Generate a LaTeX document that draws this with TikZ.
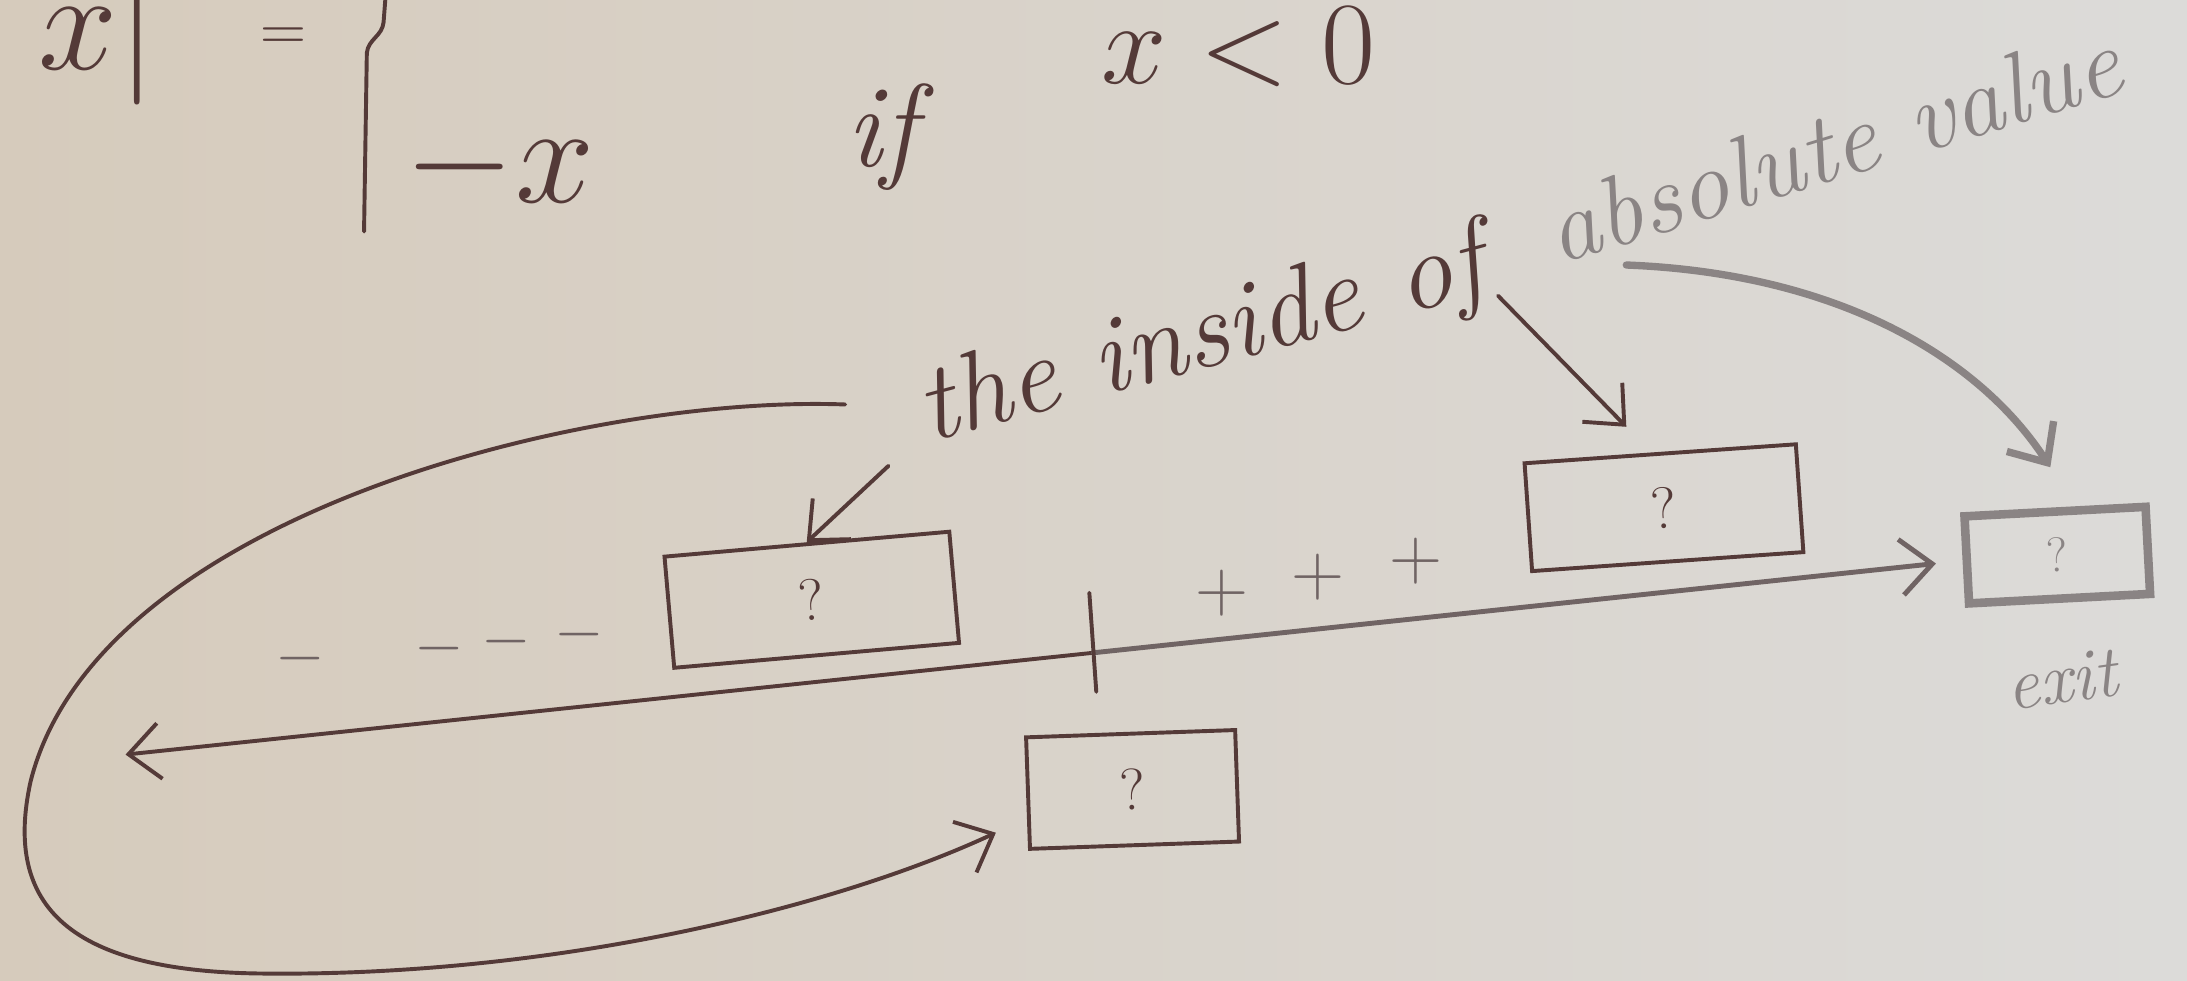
\documentclass[tikz,border=0pt]{standalone}
\usepackage{fix-cm}
\usetikzlibrary{arrows.meta,calc}
\definecolor{ink}{RGB}{84,58,56}
\definecolor{midink}{RGB}{112,100,100}
\definecolor{faint}{RGB}{138,132,132}
\definecolor{paperL}{RGB}{214,203,188}
\definecolor{paperR}{RGB}{220,219,217}
\begin{document}
\begin{tikzpicture}[x=0.02cm,y=-0.02cm,
  pen/.style={draw=ink,line width=1.6pt,line cap=round,line join=round},
  mpen/.style={draw=midink,line width=2pt,line cap=round,line join=round},
  fpen/.style={draw=faint,line width=3pt,line cap=round,line join=round},
  barb/.style={-{Straight Barb[length=4.5mm,width=8mm]}},
  qbox/.style={draw=ink,line width=1.6pt,inner sep=0pt,text=ink,
    font=\fontsize{24}{28}\selectfont},
  fbox/.style={draw=faint,line width=3.5pt,inner sep=0pt,text=faint,
    font=\fontsize{20}{24}\selectfont},
  hand/.style={text=ink,inner sep=0pt,font=\fontsize{45}{52}\selectfont\itshape},
  fhand/.style={text=faint,inner sep=0pt,font=\fontsize{41}{48}\selectfont\itshape},
  big/.style={text=ink,inner sep=0pt,font=\fontsize{58}{66}\selectfont},
  sign/.style={text=midink,inner sep=0pt,font=\fontsize{30}{34}\selectfont}]
\useasboundingbox (0,0) rectangle (1568,703);
\shade[left color=paperL,right color=paperR] (0,0) rectangle (1568,703);

% formula at top
\node[big] (absx) at (70,24) {$x|$};
\node[big,font=\fontsize{26}{30}\selectfont] (eq) at (203,28) {$=$};
\draw[pen] (277,-10) -- (275,16) .. controls (274,26) and (264,28) .. (263,38) -- (261,166);
\node[big] (negx) at (358,120) {$-x$};
\node[big,font=\fontsize{48}{56}\selectfont\itshape] (iff) at (632,98) {if};
\node[big,font=\fontsize{48}{56}\selectfont] (cond) at (888,34) {$x<0$};

% labels
\node[hand,rotate=15] (lblA) at (862,244) {the inside of};
\node[fhand,rotate=17] (lblB) at (1314,104) {absolute value};

% boxes
\node[qbox,minimum width=4.1cm,minimum height=1.6cm,rotate=5] (box1) at (582,430) {?};
\node[qbox,minimum width=3.9cm,minimum height=1.55cm,rotate=4] (box2) at (1193,364) {?};
\node[fbox,minimum width=2.6cm,minimum height=1.25cm,rotate=3] (box3) at (1475,398) {?};
\node[qbox,minimum width=3cm,minimum height=1.6cm,rotate=2] (box4) at (812,566) {?};
\node[fhand,rotate=8,font=\fontsize{30}{34}\selectfont\itshape] (exitlbl) at (1478,487) {exit};

% signs
\node[sign,font=\fontsize{26}{30}\selectfont] (m1) at (215,472) {$-$};
\node[sign,font=\fontsize{26}{30}\selectfont] (m2) at (315,465) {$-$};
\node[sign,font=\fontsize{26}{30}\selectfont] (m3) at (363,460) {$-$};
\node[sign,font=\fontsize{26}{30}\selectfont] (m4) at (415,455) {$-$};
\node[sign] (p1) at (876,425) {$+$};
\node[sign] (p2) at (945,414) {$+$};
\node[sign] (p3) at (1015,402) {$+$};

% number line
\coordinate (nl) at (90,541);
\coordinate (nr) at (1388,404);
\coordinate (tz) at (784,468);
\coordinate (tt) at (781,425);
\coordinate (tb) at (786,496);
\draw[pen,barb] (tz) -- (nl);
\draw[mpen,barb] (tz) -- (nr);
\draw[pen] (tt) -- (tb);

% annotation arrows
\coordinate (a1s) at (637,334);
\draw[pen,barb] (a1s) -- (box1.north);
\coordinate (a2s) at (1074,212);
\coordinate (a2e) at (1166,306);
\draw[pen,barb] (a2s) -- (a2e);
\coordinate (a3s) at (1166,190);
\coordinate (a3e) at (1470,335);
\draw[fpen,barb] (a3s) .. controls (1320,196) and (1420,258) .. (a3e);

% loop
\coordinate (ls) at (606,290);
\coordinate (le) at (714,597);
\draw[pen,barb] (ls) .. controls (420,283) and (70,370) .. (22,560)
  .. controls (2,650) and (50,697) .. (190,698)
  .. controls (400,700) and (600,650) .. (le);
\end{tikzpicture}
\end{document}
